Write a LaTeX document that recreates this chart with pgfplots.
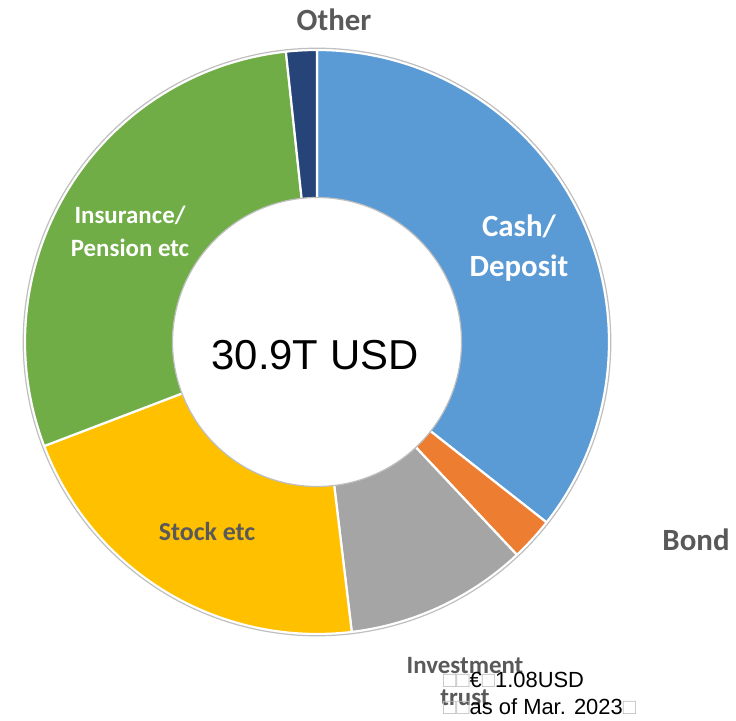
\documentclass[border=0pt]{standalone}
\usepackage{pgfplots}
\usepackage{pgfplotstable}
\pgfplotsset{compat=1.18}
\usepackage{fontspec}
\setmainfont{Carlito}
\newfontfamily\arial{Liberation Sans}

\definecolor{cCash}{HTML}{5B9BD5}
\definecolor{cBond}{HTML}{ED7D31}
\definecolor{cInv}{HTML}{A5A5A5}
\definecolor{cStock}{HTML}{FFC000}
\definecolor{cIns}{HTML}{70AD47}
\definecolor{cOther}{HTML}{264478}
\definecolor{txtgray}{HTML}{595959}
\definecolor{ringgray}{HTML}{BFBFBF}

% household financial assets, share in percent
\pgfplotstableread{
name       value
Cash       35.6
Bond       2.4
Investment 10.1
Stock      21.1
Insurance  29.1
Other      1.7
}\assets

\pgfplotstablegetelem{0}{value}\of\assets \let\vA\pgfplotsretval
\pgfplotstablegetelem{1}{value}\of\assets \let\vB\pgfplotsretval
\pgfplotstablegetelem{2}{value}\of\assets \let\vC\pgfplotsretval
\pgfplotstablegetelem{3}{value}\of\assets \let\vD\pgfplotsretval
\pgfplotstablegetelem{4}{value}\of\assets \let\vE\pgfplotsretval
\pgfplotstablegetelem{5}{value}\of\assets \let\vF\pgfplotsretval
\pgfmathsetmacro\tot{\vA+\vB+\vC+\vD+\vE+\vF}
\pgfmathsetmacro\aA{\vA/\tot*360}
\pgfmathsetmacro\aB{\aA+\vB/\tot*360}
\pgfmathsetmacro\aC{\aB+\vC/\tot*360}
\pgfmathsetmacro\aD{\aC+\vD/\tot*360}
\pgfmathsetmacro\aE{\aD+\vE/\tot*360}

\def\Rout{292}
\def\Rin{144.5}

\begin{document}
\begin{tikzpicture}
\begin{axis}[
  hide axis, scale only axis,
  width=736bp, height=721bp,
  xmin=-317, xmax=419, ymin=-379, ymax=342,
  clip=false,
]
\path (rel axis cs:0,0) rectangle (rel axis cs:1,1);
\pgfplotsset{slice/.style={draw=white, line width=2.2bp, line join=round, samples=120, variable=\t}}
\addplot[slice, fill=cCash,  domain=0:\aA]   ({\Rout*sin(\t)},{\Rout*cos(\t)}) -- (axis cs:0,0) -- cycle;
\addplot[slice, fill=cBond,  domain=\aA:\aB] ({\Rout*sin(\t)},{\Rout*cos(\t)}) -- (axis cs:0,0) -- cycle;
\addplot[slice, fill=cInv,   domain=\aB:\aC] ({\Rout*sin(\t)},{\Rout*cos(\t)}) -- (axis cs:0,0) -- cycle;
\addplot[slice, fill=cStock, domain=\aC:\aD] ({\Rout*sin(\t)},{\Rout*cos(\t)}) -- (axis cs:0,0) -- cycle;
\addplot[slice, fill=cIns,   domain=\aD:\aE] ({\Rout*sin(\t)},{\Rout*cos(\t)}) -- (axis cs:0,0) -- cycle;
\addplot[slice, fill=cOther, domain=\aE:360] ({\Rout*sin(\t)},{\Rout*cos(\t)}) -- (axis cs:0,0) -- cycle;
% outer thin outline
\addplot[draw=ringgray, line width=1.2bp, domain=0:360, samples=240, variable=\t] ({(\Rout+1.8)*sin(\t)},{(\Rout+1.8)*cos(\t)}) -- cycle;
% hole
\addplot[fill=white, draw=ringgray, line width=1.2bp, domain=0:360, samples=240, variable=\t] ({\Rin*sin(\t)},{\Rin*cos(\t)}) -- cycle;

% labels
\node[font=\fontsize{31}{33}\selectfont\bfseries, text=txtgray] at (axis cs:17,322) {Other};
\node[font=\fontsize{31}{33}\selectfont\bfseries, text=txtgray] at (axis cs:379,-198) {Bond};
\node[font=\fontsize{31}{40}\selectfont\bfseries, text=white, align=center] at (axis cs:202,94) {Cash/\\Deposit};
\node[font=\fontsize{25}{33}\selectfont\bfseries, text=white, align=center] at (axis cs:-187,110.5) {Insurance/\\Pension etc};
\node[font=\fontsize{26}{30}\selectfont\bfseries, text=txtgray] at (axis cs:-110,-190) {Stock etc};
\node[font=\fontsize{25}{33}\selectfont\bfseries, text=txtgray, align=center] at (axis cs:148,-339.5) {Investment\\trust};
\node[font=\arial\fontsize{42}{46}\selectfont, text=black] at (axis cs:-2,-13) {30.9T USD};
\node[font=\arial\fontsize{22}{27}\selectfont, text=black, align=left, anchor=west, inner sep=0pt] at (axis cs:126,-351.5) {{\color{ringgray}□□}€{\color{ringgray}□}1.08USD\\{\color{ringgray}□□}as of Mar. 2023{\color{ringgray}□}};
\end{axis}
\end{tikzpicture}
\end{document}
